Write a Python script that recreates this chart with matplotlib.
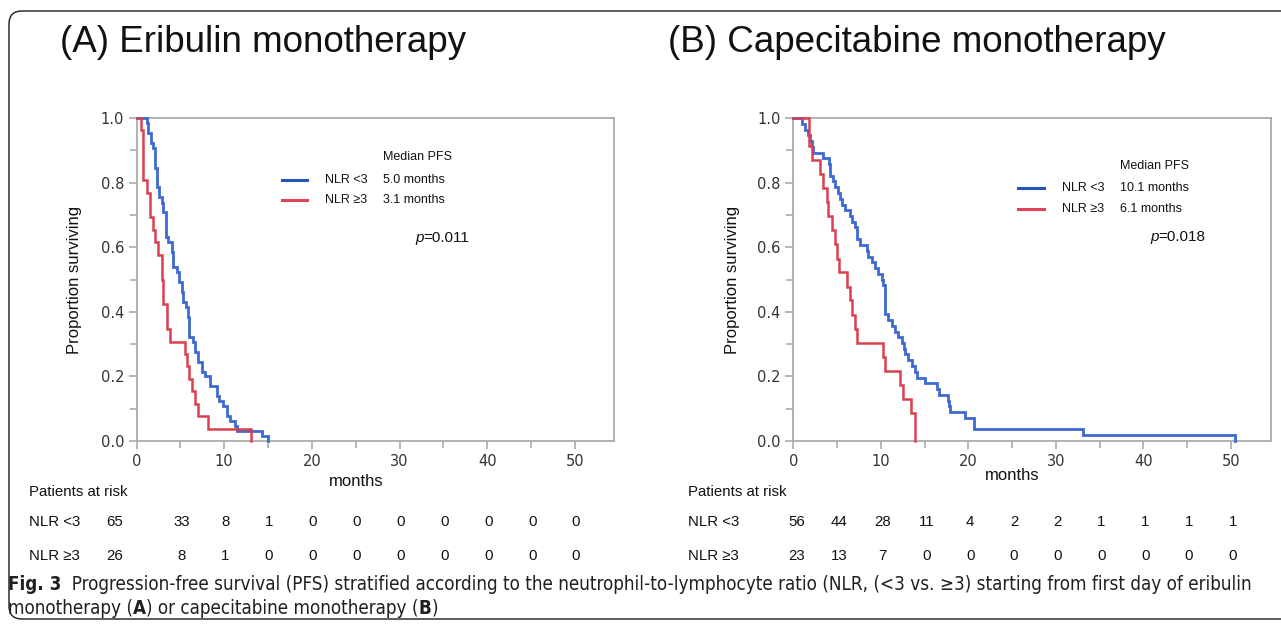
import matplotlib
matplotlib.use("Agg")
import numpy as np
import matplotlib.pyplot as plt
from matplotlib.lines import Line2D
from matplotlib.patches import FancyBboxPatch
from matplotlib.ticker import MultipleLocator
from matplotlib import font_manager
import matplotlib.transforms as mtrans

W, H = 1281, 626

# ---------------- data ----------------
titles = ["(A) Eribulin monotherapy", "(B) Capecitabine monotherapy"]
x_ticks = [0, 10, 20, 30, 40, 50]
y_ticks = [0.0, 0.2, 0.4, 0.6, 0.8, 1.0]
group_labels = ["NLR <3", "NLR \u22653"]
risk_months = [0, 5, 10, 15, 20, 25, 30, 35, 40, 45, 50]

# Panel A, NLR <3 (blue)
a_low_t = [0, 1.16, 1.35, 1.62, 1.92, 2.11, 2.30, 2.60, 2.87, 3.06, 3.36, 3.63,
           4.01, 4.20, 4.58, 4.88, 5.15, 5.34, 5.64, 5.91, 6.02, 6.40, 6.67,
           7.05, 7.43, 7.81, 8.38, 9.14, 9.44, 9.90, 10.36, 10.66, 11.23, 11.42,
           14.3, 15.0]
a_low_s = [1.0, 0.985, 0.954, 0.923, 0.908, 0.846, 0.785, 0.754, 0.738, 0.708,
           0.631, 0.615, 0.585, 0.538, 0.523, 0.492, 0.462, 0.431, 0.415, 0.385,
           0.323, 0.308, 0.277, 0.246, 0.215, 0.200, 0.169, 0.138, 0.123, 0.108,
           0.077, 0.062, 0.046, 0.031, 0.015, 0.0]
# Panel A, NLR >=3 (red)
a_high_t = [0, 0.51, 0.78, 1.16, 1.54, 1.92, 2.11, 2.49, 2.87, 3.06, 3.45, 3.82,
            5.53, 5.72, 6.02, 6.30, 6.67, 7.05, 8.19, 13.0]
a_high_s = [1.0, 0.962, 0.808, 0.769, 0.692, 0.654, 0.615, 0.577, 0.500, 0.423,
            0.346, 0.308, 0.269, 0.231, 0.192, 0.154, 0.115, 0.077, 0.038, 0.0]

# Panel B, NLR <3 (blue)
b_low_t = [0, 0.96, 1.34, 1.72, 1.91, 2.10, 2.29, 3.43, 4.12, 4.15, 4.19, 4.57,
           4.77, 5.15, 5.33, 5.52, 5.91, 6.48, 6.67, 7.05, 7.24, 7.30, 7.62,
           8.38, 8.57, 8.95, 9.33, 9.71, 10.1, 10.29, 10.48, 10.86, 11.24,
           11.62, 12.0, 12.38, 12.6, 12.76, 13.14, 13.52, 13.9, 14.1, 15.05,
           16.4, 16.6, 17.7, 17.8, 17.9, 19.6, 20.6, 33.1, 50.5]
b_low_s = [1.0, 0.982, 0.964, 0.946, 0.929, 0.911, 0.893, 0.875, 0.857, 0.839,
           0.821, 0.804, 0.786, 0.768, 0.750, 0.732, 0.714, 0.696, 0.679, 0.661,
           0.643, 0.625, 0.607, 0.589, 0.571, 0.554, 0.536, 0.518, 0.500, 0.482,
           0.393, 0.375, 0.357, 0.339, 0.321, 0.304, 0.286, 0.268, 0.250, 0.232,
           0.214, 0.196, 0.179, 0.161, 0.143, 0.125, 0.107, 0.089, 0.071, 0.036,
           0.018, 0.0]
# Panel B, NLR >=3 (red)
b_high_t = [0, 1.83, 2.10, 3.05, 3.43, 3.80, 4.00, 4.38, 4.77, 5.00, 5.26, 6.10,
            6.48, 6.67, 7.05, 7.24, 10.29, 10.48, 12.19, 12.57, 13.4, 13.9]
b_high_s = [1.0, 0.913, 0.870, 0.826, 0.783, 0.739, 0.696, 0.652, 0.609, 0.565,
            0.522, 0.478, 0.435, 0.391, 0.348, 0.304, 0.261, 0.217, 0.174, 0.130,
            0.087, 0.0]

median_a = ["5.0 months", "3.1 months"]
median_b = ["10.1 months", "6.1 months"]
p_a = "=0.011"
p_b = "=0.018"

risk_a_low = [65, 33, 8, 1, 0, 0, 0, 0, 0, 0, 0]
risk_a_high = [26, 8, 1, 0, 0, 0, 0, 0, 0, 0, 0]
risk_b_low = [56, 44, 28, 11, 4, 2, 2, 1, 1, 1, 1]
risk_b_high = [23, 13, 7, 0, 0, 0, 0, 0, 0, 0, 0]

caption1 = [("Fig. 3", "bold"),
            ("  Progression-free survival (PFS) stratified according to the neutrophil-to-lymphocyte "
             "ratio (NLR, (<3 vs. \u22653) starting from first day of eribulin", "normal")]
caption2 = [("monotherapy (", "normal"), ("A", "bold"), (") or capecitabine monotherapy (", "normal"),
            ("B", "bold"), (")", "normal")]

# ---------------- styling ----------------
BLUE = "#3d6ad2"
RED = "#d9404f"
LEG_BLUE = "#2456b8"
LEG_RED = "#e04358"
SPINE = "#ababab"
TICKC = "#333333"
ARIAL = ["Liberation Sans", "DejaVu Sans"]

installed = {f.name for f in font_manager.fontManager.ttflist}
cap_stretch = "normal"
if "Liberation Sans Narrow" in installed:
    CAPFONT = ["Liberation Sans Narrow", "DejaVu Sans"]
else:
    path = font_manager.findfont(font_manager.FontProperties(family="DejaVu Sans", stretch="condensed"))
    if "Condensed" in path:
        CAPFONT = ["DejaVu Sans"]
        cap_stretch = "condensed"
    else:
        CAPFONT = ["Liberation Sans", "DejaVu Sans"]

fig = plt.figure(figsize=(W / 100, H / 100), dpi=100)


def fx(x):
    return x / W


def fy(y):
    return 1 - y / H


# frame
frame = FancyBboxPatch((9, H - 619), 1320, 608, boxstyle="round,pad=0,rounding_size=13",
                       transform=mtrans.IdentityTransform(), fill=False, ec="#1a1a1a", lw=1.0)
fig.add_artist(frame)

top_px, bot_px = 118, 441
panels = [
    dict(left=136.5, right=614, xmax=54.45, title=titles[0], title_x=60,
         curves=[(a_low_t, a_low_s, BLUE, 2.0), (a_high_t, a_high_s, RED, 1.8)],
         leg_line=(282, 307), leg_y=(180, 200), leg_lab_x=325, leg_med_x=383, med_y=157,
         medians=median_a, p=p_a, p_xy=(415, 238), ylab_x=75, xlab_y=481,
         risk=[risk_a_low, risk_a_high], risk_lab_x=29, first_shift=-22, risk_shift=1),
    dict(left=793.3, right=1271, xmax=54.6, title=titles[1], title_x=668,
         curves=[(b_low_t, b_low_s, BLUE, 2.0), (b_high_t, b_high_s, RED, 1.8)],
         leg_line=(1018, 1044), leg_y=(188, 209), leg_lab_x=1062, leg_med_x=1120, med_y=166,
         medians=median_b, p=p_b, p_xy=(1150, 237), ylab_x=733, xlab_y=476,
         risk=[risk_b_low, risk_b_high], risk_lab_x=688, first_shift=3, risk_shift=2),
]

for P in panels:
    ax = fig.add_axes([fx(P["left"]), fy(bot_px), (P["right"] - P["left"]) / W,
                       (bot_px - top_px) / H])
    for t, s, c, lw in P["curves"]:
        ax.step(t, s, where="post", color=c, lw=lw, solid_joinstyle="miter", clip_on=False, zorder=3)
    ax.set_xlim(0, P["xmax"])
    ax.set_ylim(0, 1.0)
    ax.set_xticks(x_ticks)
    ax.set_yticks(y_ticks)
    ax.set_yticklabels([f"{v:.1f}" for v in y_ticks])
    ax.xaxis.set_minor_locator(MultipleLocator(5))
    ax.yaxis.set_minor_locator(MultipleLocator(0.1))
    for sp in ax.spines.values():
        sp.set_color(SPINE)
        sp.set_linewidth(1.3)
    ax.tick_params(which="both", direction="out", color=SPINE, width=1.2)
    ax.tick_params(which="major", length=6, labelsize=10.5, labelcolor=TICKC, pad=3)
    ax.tick_params(which="minor", length=5)
    ax.patch.set_facecolor("white")

    # title
    fig.text(fx(P["title_x"]), fy(42), P["title"], family=ARIAL, fontsize=26.5,
             ha="left", va="center", color="#111111")
    # y label
    fig.text(fx(P["ylab_x"]), fy(280), "Proportion surviving", family=ARIAL, fontsize=12,
             rotation=90, ha="center", va="center", color="#111111")
    # x label centred on the 0-50 range
    trans = mtrans.blended_transform_factory(ax.transData, fig.transFigure)
    ax.text(25, fy(P["xlab_y"]), "months", transform=trans, family=ARIAL, fontsize=12,
            ha="center", va="center", color="#111111")

    # legend
    fig.text(fx(P["leg_med_x"]), fy(P["med_y"]), "Median PFS", family=ARIAL, fontsize=9,
             ha="left", va="center", color="#111111")
    for i, (lc, yy) in enumerate(zip([LEG_BLUE, LEG_RED], P["leg_y"])):
        fig.add_artist(Line2D([fx(P["leg_line"][0]), fx(P["leg_line"][1])], [fy(yy), fy(yy)],
                              color=lc, lw=2.2, transform=fig.transFigure))
        fig.text(fx(P["leg_lab_x"]), fy(yy), group_labels[i], family=ARIAL, fontsize=9,
                 ha="left", va="center", color="#111111")
        fig.text(fx(P["leg_med_x"]), fy(yy), P["medians"][i], family=ARIAL, fontsize=9,
                 ha="left", va="center", color="#111111")
    # p value
    pt = fig.text(fx(P["p_xy"][0]), fy(P["p_xy"][1]), "p", family=ARIAL, fontsize=11,
                  style="italic", ha="left", va="center", color="#111111")
    ax.annotate(P["p"], xy=(1, 0), xycoords=pt, ha="left", va="bottom", family=ARIAL,
                fontsize=11, color="#111111", annotation_clip=False)

    # risk table
    fig.text(fx(P["risk_lab_x"]), fy(492), "Patients at risk", family=ARIAL, fontsize=10.8,
             ha="left", va="center", color="#111111")
    xs = [P["left"] + m * (P["right"] - P["left"]) / P["xmax"] + P["risk_shift"] for m in risk_months]
    xs[0] = P["left"] + P["first_shift"]
    for row, (vals, yy) in enumerate(zip(P["risk"], [522, 556])):
        fig.text(fx(P["risk_lab_x"]), fy(yy), group_labels[row], family=ARIAL, fontsize=10.8,
                 ha="left", va="center", color="#111111")
        for xv, v in zip(xs, vals):
            fig.text(fx(xv), fy(yy), str(v), family=ARIAL, fontsize=10.8,
                     ha="center", va="center", color="#111111")

# caption
cap_ax = fig.add_axes([0, 0, 1, 1], facecolor="none")
cap_ax.set_axis_off()


def chain(parts, x, y, size):
    out = []
    t = None
    for txt, wt in parts:
        if t is None:
            t = cap_ax.text(fx(x), fy(y), txt, transform=fig.transFigure, family=CAPFONT,
                            fontstretch=cap_stretch, fontsize=size, fontweight=wt,
                            ha="left", va="bottom", color="#231f20")
        else:
            t = cap_ax.annotate(txt, xy=(1, 0), xycoords=t, ha="left", va="bottom",
                                family=CAPFONT, fontstretch=cap_stretch, fontsize=size,
                                fontweight=wt, color="#231f20", annotation_clip=False)
        out.append(t)
    return out


line1 = chain(caption1, 8, 594, 14)
line2 = chain(caption2, 8, 618, 14)

# fit caption line 1 to the width it spans in the reference (x = 8 ... 1262)
fig.canvas.draw()
r = fig.canvas.get_renderer()
x0 = line1[0].get_window_extent(r).x0
x1 = line1[-1].get_window_extent(r).x1
scale = (1262 - 8) / (x1 - x0)
for t in line1 + line2:
    t.set_fontsize(14 * scale)

fig.savefig("out.png", dpi=100, facecolor="white")
